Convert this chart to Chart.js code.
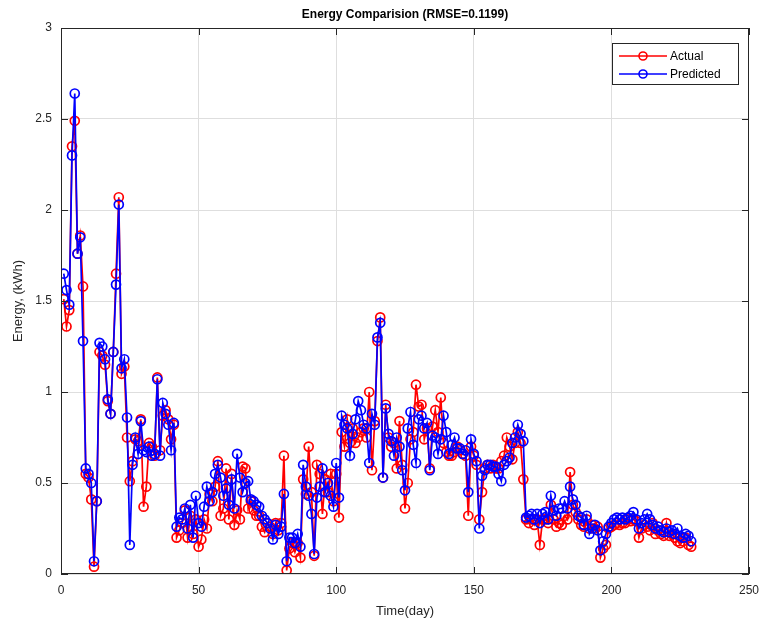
<!DOCTYPE html>
<html><head><meta charset="utf-8">
<script src="https://cdn.jsdelivr.net/npm/chart.js@4.4.1/dist/chart.umd.min.js"></script>
<style>html,body{margin:0;padding:0;background:#fff}#wrap{width:768px;height:628px}</style>
</head><body><div id="wrap"><canvas id="c" width="768" height="628"></canvas></div>
<script>
const titleText = "Energy Comparision (RMSE=0.1199)";
const xTitle = "Time(day)";
const yTitle = "Energy, (kWh)";
const xTicks = [0, 50, 100, 150, 200, 250];
const yTicks = [0, 0.5, 1, 1.5, 2, 2.5, 3];

const actual = [
1.51,1.36,1.45,2.35,2.49,1.76,1.86,1.58,0.55,0.53,
0.41,0.04,0.40,1.22,1.20,1.15,0.95,0.88,1.22,1.65,
2.07,1.10,1.14,0.75,0.51,0.62,0.74,0.73,0.85,0.37,
0.48,0.72,0.70,0.65,1.08,0.68,0.87,0.90,0.85,0.74,
0.82,0.20,0.24,0.28,0.35,0.20,0.32,0.22,0.30,0.15,
0.19,0.30,0.25,0.44,0.40,0.48,0.62,0.32,0.36,0.58,
0.30,0.55,0.27,0.35,0.30,0.59,0.58,0.36,0.40,0.35,
0.32,0.32,0.26,0.23,0.28,0.26,0.22,0.28,0.24,0.28,
0.65,0.02,0.14,0.17,0.12,0.17,0.09,0.52,0.44,0.70,
0.45,0.10,0.60,0.55,0.33,0.52,0.45,0.55,0.40,0.55,
0.31,0.78,0.70,0.85,0.72,0.80,0.72,0.75,0.78,0.80,
0.75,1.00,0.57,0.84,1.28,1.41,0.53,0.93,0.75,0.70,
0.72,0.58,0.84,0.60,0.36,0.50,0.74,0.78,1.04,0.92,
0.93,0.74,0.80,0.58,0.81,0.90,0.78,0.97,0.72,0.67,
0.65,0.65,0.67,0.70,0.68,0.66,0.65,0.32,0.70,0.65,
0.60,0.30,0.45,0.58,0.60,0.58,0.60,0.58,0.58,0.62,
0.65,0.75,0.70,0.63,0.72,0.78,0.72,0.52,0.30,0.28,
0.30,0.27,0.30,0.16,0.30,0.30,0.28,0.38,0.30,0.26,
0.28,0.27,0.32,0.30,0.56,0.38,0.34,0.30,0.27,0.26,
0.30,0.25,0.27,0.25,0.26,0.09,0.14,0.16,0.25,0.26,
0.27,0.28,0.27,0.28,0.28,0.30,0.29,0.30,0.29,0.20,
0.25,0.27,0.26,0.24,0.28,0.22,0.24,0.22,0.21,0.28,
0.21,0.22,0.20,0.18,0.17,0.18,0.20,0.16,0.15
];

const predicted = [
1.65,1.56,1.48,2.30,2.64,1.76,1.85,1.28,0.58,0.55,
0.50,0.07,0.40,1.27,1.25,1.18,0.96,0.88,1.22,1.59,
2.03,1.13,1.18,0.86,0.16,0.60,0.75,0.66,0.84,0.68,
0.67,0.70,0.65,0.66,1.07,0.65,0.94,0.88,0.82,0.68,
0.83,0.26,0.31,0.30,0.36,0.25,0.38,0.20,0.43,0.28,
0.26,0.37,0.48,0.40,0.45,0.55,0.60,0.53,0.43,0.47,
0.38,0.52,0.36,0.66,0.53,0.45,0.50,0.51,0.41,0.40,
0.38,0.37,0.32,0.30,0.28,0.25,0.19,0.27,0.22,0.26,
0.44,0.07,0.20,0.20,0.17,0.22,0.15,0.60,0.48,0.43,
0.33,0.11,0.42,0.48,0.58,0.45,0.50,0.43,0.37,0.61,
0.42,0.87,0.82,0.80,0.65,0.77,0.85,0.95,0.90,0.82,
0.80,0.61,0.88,0.82,1.30,1.38,0.53,0.91,0.77,0.73,
0.65,0.75,0.70,0.57,0.46,0.80,0.89,0.71,0.61,0.85,
0.87,0.80,0.83,0.57,0.76,0.75,0.66,0.74,0.87,0.78,
0.66,0.71,0.75,0.69,0.69,0.66,0.68,0.45,0.74,0.66,
0.62,0.25,0.54,0.57,0.60,0.60,0.59,0.59,0.55,0.51,
0.60,0.62,0.64,0.72,0.75,0.82,0.77,0.73,0.31,0.32,
0.33,0.30,0.33,0.28,0.33,0.34,0.30,0.43,0.35,0.32,
0.36,0.36,0.40,0.36,0.48,0.41,0.38,0.32,0.31,0.27,
0.32,0.22,0.25,0.27,0.24,0.13,0.18,0.22,0.26,0.28,
0.30,0.31,0.30,0.31,0.30,0.31,0.32,0.34,0.30,0.25,
0.28,0.30,0.33,0.30,0.27,0.25,0.26,0.24,0.23,0.25,
0.23,0.24,0.22,0.25,0.21,0.20,0.22,0.21,0.18
];

const days = actual.map((_, i) => i + 1);

const FONT = '"Liberation Sans", Arial, Helvetica, sans-serif';
const AX = '#262626';

const deco = {
  id: 'deco',
  afterDraw(chart) {
    const ctx = chart.ctx, a = chart.chartArea;
    const xs = chart.scales.x, ys = chart.scales.y;
    ctx.save();
    ctx.strokeStyle = AX; ctx.lineWidth = 1;
    const L = (x1, y1, x2, y2) => { ctx.beginPath(); ctx.moveTo(x1, y1); ctx.lineTo(x2, y2); ctx.stroke(); };
    ctx.strokeRect(Math.round(a.left) + 0.5, Math.round(a.top) + 0.5, Math.round(a.right - a.left) - 1, Math.round(a.bottom - a.top) - 1);
    xTicks.forEach(v => {
      const p = Math.round(xs.getPixelForValue(v)) + 0.5;
      L(p, a.bottom, p, a.bottom - 7); L(p, a.top, p, a.top + 7);
    });
    yTicks.forEach(v => {
      const p = Math.round(ys.getPixelForValue(v)) + 0.5;
      L(a.left, p, a.left + 7, p); L(a.right, p, a.right - 7, p);
    });
    // title
    ctx.fillStyle = '#000';
    ctx.textAlign = 'center'; ctx.textBaseline = 'middle';
    ctx.font = 'bold 12px ' + FONT;
    ctx.fillText(titleText, (a.left + a.right) / 2, 15);
    // axis titles
    ctx.fillStyle = AX;
    ctx.font = '13px ' + FONT;
    ctx.fillText(xTitle, (a.left + a.right) / 2, 611);
    ctx.save();
    ctx.translate(18, (a.top + a.bottom) / 2);
    ctx.rotate(-Math.PI / 2);
    ctx.fillText(yTitle, 0, 0);
    ctx.restore();
    // legend
    const bx = 612.5, by = 43.5, bw = 126, bh = 41;
    ctx.fillStyle = '#fff';
    ctx.fillRect(bx, by, bw, bh);
    ctx.strokeStyle = AX; ctx.lineWidth = 1;
    ctx.strokeRect(bx, by, bw, bh);
    const items = [{t: 'Actual', c: '#ff0000', y: 56}, {t: 'Predicted', c: '#0000ff', y: 74}];
    items.forEach(it => {
      ctx.strokeStyle = it.c; ctx.lineWidth = 1.6;
      L(619, it.y, 667, it.y);
      ctx.beginPath(); ctx.arc(643, it.y, 4, 0, Math.PI * 2); ctx.stroke();
      ctx.fillStyle = '#000'; ctx.textAlign = 'left'; ctx.textBaseline = 'middle';
      ctx.font = '12px ' + FONT;
      ctx.fillText(it.t, 670, it.y + 1);
    });
    ctx.restore();
  }
};

new Chart(document.getElementById('c'), {
  type: 'line',
  data: {
    datasets: [
      {
        label: 'Actual',
        data: days.map((d, i) => ({x: d, y: actual[i]})),
        borderColor: '#ff0000', backgroundColor: 'rgba(0,0,0,0)',
        pointBorderColor: '#ff0000', pointBackgroundColor: 'rgba(0,0,0,0)',
        borderWidth: 1.7, pointRadius: 4.5, pointBorderWidth: 1.7, tension: 0, order: 2
      },
      {
        label: 'Predicted',
        data: days.map((d, i) => ({x: d, y: predicted[i]})),
        borderColor: '#0000ff', backgroundColor: 'rgba(0,0,0,0)',
        pointBorderColor: '#0000ff', pointBackgroundColor: 'rgba(0,0,0,0)',
        borderWidth: 1.7, pointRadius: 4.5, pointBorderWidth: 1.7, tension: 0, order: 1
      }
    ]
  },
  options: {
    responsive: false, animation: false, devicePixelRatio: 1,
    layout: {padding: {top: 28, right: 14, left: 0, bottom: 0}},
    plugins: {legend: {display: false}, tooltip: {enabled: false}, title: {display: false}},
    scales: {
      x: {
        type: 'linear', min: 0, max: 250,
        afterFit: s => { s.height = 54; },
        afterBuildTicks: s => { s.ticks = xTicks.map(v => ({value: v})); },
        grid: {color: '#dedede', drawTicks: false},
        border: {display: false},
        ticks: {padding: 9, color: AX, font: {size: 12, family: FONT}, maxRotation: 0, callback: v => String(v)}
      },
      y: {
        type: 'linear', min: 0, max: 3,
        afterFit: s => { s.width = 61; },
        afterBuildTicks: s => { s.ticks = yTicks.map(v => ({value: v})); },
        grid: {color: '#dedede', drawTicks: false},
        border: {display: false},
        ticks: {padding: 9, color: AX, font: {size: 12, family: FONT}, callback: v => String(v)}
      }
    }
  },
  plugins: [deco]
});
</script></body></html>
